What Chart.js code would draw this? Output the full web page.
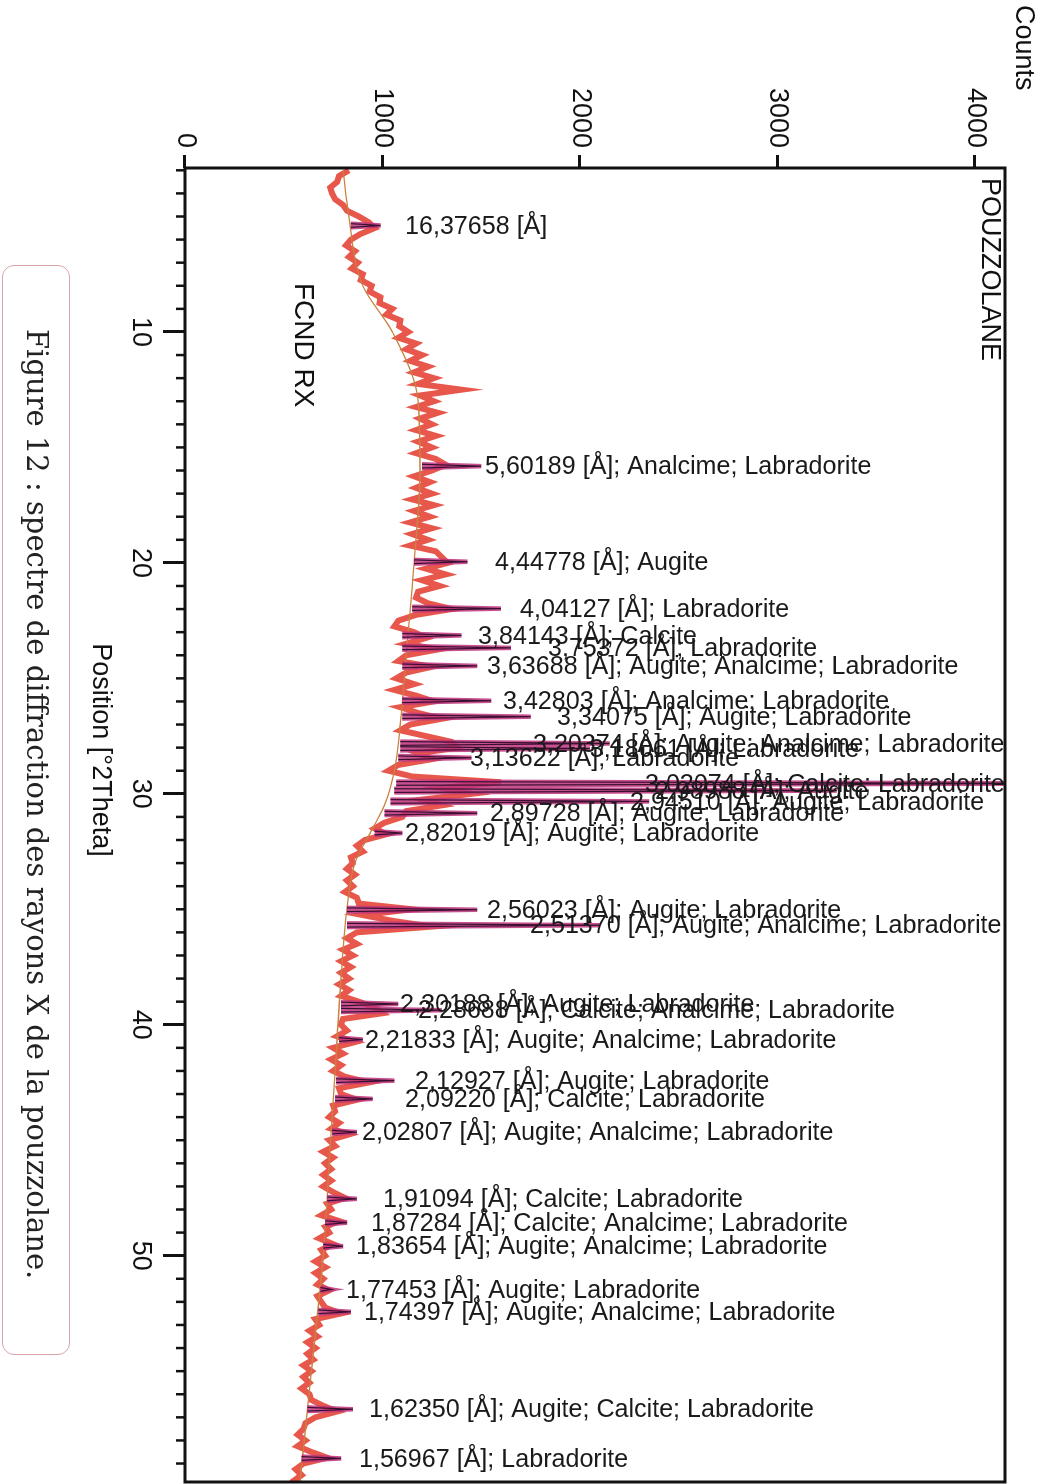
<!DOCTYPE html>
<html>
<head>
<meta charset="utf-8">
<script src="https://cdn.jsdelivr.net/npm/chart.js@4.4.0/dist/chart.umd.min.js"></script>
<style>
  html, body { margin:0; padding:0; background:#fff; overflow:hidden; width:1040px; height:1484px; }
  #wrap { position:absolute; left:0; top:0; width:1484px; height:1040px; transform-origin:0 0; transform: translateX(1040px) rotate(90deg); background:#fff; }
  #c { display:block; position:absolute; left:0; top:0; }
  .caption { position:absolute; left:265px; top:970px; width:1090px; height:68px; box-sizing:border-box;
    border:1.5px solid #d9a3aa; border-radius:12px; font-family:"DejaVu Serif", "Liberation Serif", serif;
    font-size:29px; line-height:64px; padding-left:63px; color:#222; white-space:nowrap; }
</style>
</head>
<body>
<div id="wrap">
  <canvas id="c" width="1484" height="1040"></canvas>
  <div class="caption">Figure 12 : spectre de diffraction des rayons X de la pouzzolane.</div>
</div>
<script>
// ---- Observed pattern (counts), 2Theta from 3.00 in steps of 0.25 ----
const obsStart = 3.0;
const obsStep = 0.25;
const obsCounts = [
 830,780,770,735,745,760,800,820,880,930,960,890,840,815,860,830,875,845,900,890,
 945,935,990,985,1050,1020,1090,1085,
 1130,1080,1170,1120,1200,1140,1230,1160,1260,1180,1400,1190,1260,1170,1280,1190,1250,1170,1270,1180,
 1250,1170,1270,1320,1250,1160,1240,1170,1250,1150,1260,1160,1240,1140,1250,1150,1230,1140,1270,1300,
 1330,1220,1320,1200,1290,1180,1170,1230,1350,1170,1080,1060,1160,1220,1120,1280,1120,1080,1250,1120,
 1070,1160,1060,1170,1260,1090,1180,1300,1140,1090,1220,1350,1380,1180,1250,1080,1030,1150,1600,1300,
 1450,1200,1300,1120,1100,1010,960,1020,910,870,900,840,850,820,860,820,850,810,870,880,
 1150,900,1050,1250,870,820,870,800,850,790,840,790,830,780,830,790,880,960,1000,800,
 790,820,770,860,750,800,740,790,750,810,930,780,790,870,750,760,730,780,740,830,
 730,760,700,750,710,740,700,740,700,750,810,720,740,690,780,710,730,680,750,690,
 710,660,710,660,700,670,730,670,690,710,790,660,680,630,670,620,660,620,650,600,
 640,600,630,590,630,640,700,770,660,610,600,570,610,570,640,720,600,560,590,550,
 570
];

// ---- Background curve ----
const bgTheta  = [3, 5, 8, 10, 13, 16, 20, 24, 27, 29, 30.5, 31.5, 33, 35, 38, 42, 46, 50, 55, 60];
const bgCounts = [800, 830, 900, 1050, 1180, 1190, 1160, 1120, 1090, 1060, 1010, 950, 860, 820, 790, 760, 730, 700, 640, 580];

// ---- Identified peaks ----
const peakTheta  = [5.39, 15.81, 19.95, 21.98, 23.14, 23.68, 24.46, 25.97, 26.66, 27.82, 28.04, 28.44, 29.55, 29.86, 30.33, 30.84, 31.70, 35.02, 35.69, 39.10, 39.37, 40.64, 42.42, 43.21, 44.65, 47.54, 48.57, 49.59, 51.46, 52.43, 56.65, 58.78];
const peakBase   = [840, 1200, 1160, 1150, 1100, 1100, 1100, 1100, 1100, 1090, 1090, 1080, 1070, 1060, 1040, 1010, 960, 820, 820, 790, 790, 780, 765, 760, 745, 720, 710, 700, 685, 675, 620, 590];
const peakCounts = [990, 1500, 1430, 1600, 1400, 1650, 1480, 1550, 1750, 2150, 2050, 1450, 4600, 3300, 2350, 1480, 1100, 1480, 2100, 1080, 1300, 900, 1060, 950, 870, 870, 820, 800, 740, 840, 850, 790];
const peakLabels = [
 "16,37658 [Å]",
 "5,60189 [Å]; Analcime; Labradorite",
 "4,44778 [Å]; Augite",
 "4,04127 [Å]; Labradorite",
 "3,84143 [Å]; Calcite",
 "3,75372 [Å]; Labradorite",
 "3,63688 [Å]; Augite; Analcime; Labradorite",
 "3,42803 [Å]; Analcime; Labradorite",
 "3,34075 [Å]; Augite; Labradorite",
 "3,20374 [Å]; Augite; Analcime; Labradorite",
 "3,18061 [Å]; Labradorite",
 "3,13622 [Å]; Labradorite",
 "3,02074 [Å]; Calcite; Labradorite",
 "2,98988 [Å]; Augite",
 "2,94510 [Å]; Augite; Labradorite",
 "2,89728 [Å]; Augite; Labradorite",
 "2,82019 [Å]; Augite; Labradorite",
 "2,56023 [Å]; Augite; Labradorite",
 "2,51370 [Å]; Augite; Analcime; Labradorite",
 "2,30188 [Å]; Augite; Labradorite",
 "2,28688 [Å]; Calcite; Analcime; Labradorite",
 "2,21833 [Å]; Augite; Analcime; Labradorite",
 "2,12927 [Å]; Augite; Labradorite",
 "2,09220 [Å]; Calcite; Labradorite",
 "2,02807 [Å]; Augite; Analcime; Labradorite",
 "1,91094 [Å]; Calcite; Labradorite",
 "1,87284 [Å]; Calcite; Analcime; Labradorite",
 "1,83654 [Å]; Augite; Analcime; Labradorite",
 "1,77453 [Å]; Augite; Labradorite",
 "1,74397 [Å]; Augite; Analcime; Labradorite",
 "1,62350 [Å]; Augite; Calcite; Labradorite",
 "1,56967 [Å]; Labradorite"
];
// counts level at which each label text starts
const labelAt = [1114, 1519, 1570, 1696, 1484, 1838, 1529, 1610, 1884, 1762, 2050, 1443, 2329, 2380, 2253, 1544, 1114, 1529, 1747, 1089, 1180, 911, 1165, 1114, 896, 1003, 942, 866, 815, 906, 932, 881];

const xTickValues = [10, 20, 30, 40, 50];
const yTickValues = [0, 1000, 2000, 3000, 4000];

// ---- build datasets ----
const obsData = obsCounts.map((v, i) => ({ x: obsStart + i * obsStep, y: v }));
const bgData = bgTheta.map((t, i) => ({ x: t, y: bgCounts[i] }));
const profData = [];
peakTheta.forEach((t, i) => {
  profData.push({ x: t - 0.08, y: peakBase[i] });
  profData.push({ x: t, y: peakCounts[i] });
  profData.push({ x: t + 0.08, y: peakBase[i] });
  profData.push({ x: t + 0.09, y: null });
});

const FONT = '"Liberation Sans", Arial, sans-serif';

const overlay = {
  id: 'overlay',
  afterDatasetsDraw(chart) {
    const { ctx, scales: { x, y } } = chart;
    ctx.save();
    ctx.fillStyle = '#1a1a1a';
    ctx.font = '26px ' + FONT;
    ctx.textAlign = 'left';
    ctx.textBaseline = 'middle';
    peakTheta.forEach((t, i) => {
      const px = x.getPixelForValue(t);
      const py = y.getPixelForValue(labelAt[i]);
      ctx.save();
      ctx.translate(px, py);
      ctx.rotate(-Math.PI / 2);
      ctx.scale(0.965, 1);
      ctx.fillText(peakLabels[i], 0, 1);
      ctx.restore();
    });
    ctx.restore();
  },
  afterDraw(chart) {
    const { ctx, chartArea: a, scales: { x } } = chart;
    ctx.save();
    ctx.strokeStyle = '#111';
    ctx.lineWidth = 3;
    ctx.strokeRect(a.left, a.top, a.right - a.left, a.bottom - a.top);
    ctx.lineWidth = 2.5;
    for (let v = 3; v <= 59; v++) {
      if (v % 10 === 0) continue;
      const px = x.getPixelForValue(v);
      ctx.beginPath();
      ctx.moveTo(px, a.bottom);
      ctx.lineTo(px, a.bottom + 9);
      ctx.stroke();
    }
    ctx.fillStyle = '#111';
    ctx.font = '27px ' + FONT;
    ctx.textBaseline = 'middle';
    ctx.textAlign = 'center';
    ctx.fillText('Position [°2Theta]', 750, 940);
    ctx.textAlign = 'left';
    ctx.fillText('Counts', 5, 17);
    ctx.fillText('POUZZOLANE', 178, 51);
    ctx.font = '28px ' + FONT;
    ctx.fillText('FCND RX', 283, 737);
    ctx.restore();
  }
};

Chart.defaults.font.family = FONT;

new Chart(document.getElementById('c'), {
  type: 'line',
  data: {
    datasets: [
      { data: obsData, borderColor: '#e8574b', borderWidth: 6, pointRadius: 0, tension: 0, order: 4 },
      { data: bgData, borderColor: '#c9823f', borderWidth: 1.3, pointRadius: 0, cubicInterpolationMode: 'monotone', order: 3 },
      { data: profData, borderColor: 'rgba(190,50,125,0.85)', borderWidth: 4.5, pointRadius: 0, tension: 0, spanGaps: false, order: 2 },
      { data: profData, borderColor: '#3a1030', borderWidth: 1.2, pointRadius: 0, tension: 0, spanGaps: false, order: 1 }
    ]
  },
  options: {
    responsive: false,
    animation: false,
    events: [],
    layout: { padding: { top: 35, right: 2, left: 0, bottom: 0 } },
    plugins: { legend: { display: false }, tooltip: { enabled: false } },
    scales: {
      x: {
        type: 'linear', min: 2.9, max: 59.8,
        afterFit(s) { s.height = 185; },
        afterBuildTicks(s) { s.ticks = xTickValues.map(v => ({ value: v })); },
        ticks: { font: { size: 27 }, color: '#111', padding: 6, maxRotation: 0, callback: v => String(v) },
        grid: { drawOnChartArea: false, drawTicks: true, tickLength: 22, tickWidth: 3, tickColor: '#111' },
        border: { display: false }
      },
      y: {
        type: 'linear', min: 0, max: 4152,
        afterFit(s) { s.width = 168; },
        afterBuildTicks(s) { s.ticks = yTickValues.map(v => ({ value: v })); },
        ticks: { font: { size: 27 }, color: '#111', padding: 7, callback: v => String(v) },
        grid: { drawOnChartArea: false, drawTicks: true, tickLength: 13, tickWidth: 3, tickColor: '#111' },
        border: { display: false }
      }
    }
  },
  plugins: [overlay]
});
</script>
</body>
</html>
